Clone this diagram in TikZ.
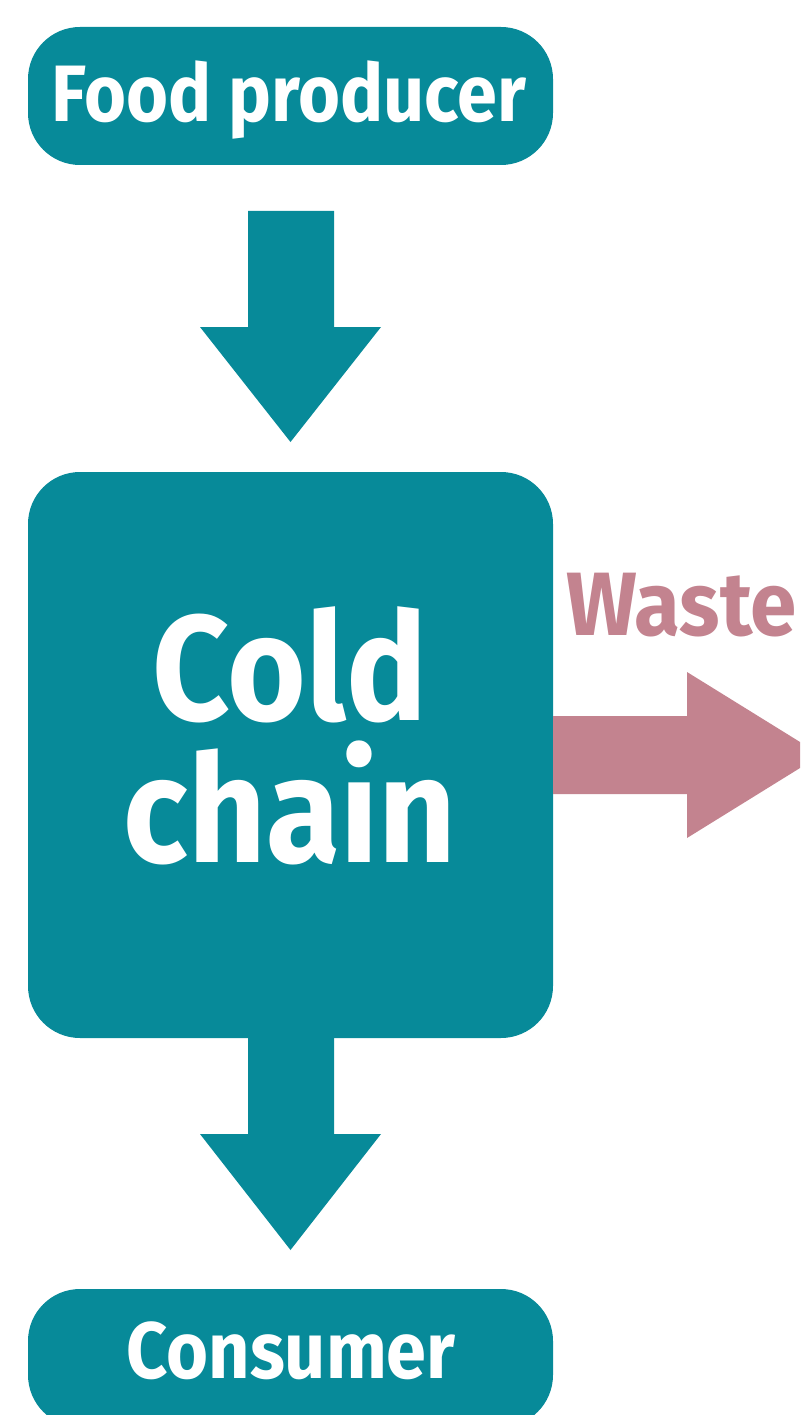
\documentclass[tikz,border=0pt]{standalone}
\usepackage{fontspec}
\setmainfont{Fira Sans}
\newfontfamily\boxfont[FakeStretch=0.9]{Fira Sans Bold}
\newfontfamily\wastefont[FakeStretch=0.93]{Fira Sans Bold}
\definecolor{tealc}{RGB}{7,138,153}
\definecolor{pinkc}{RGB}{195,131,143}
\begin{document}
\begin{tikzpicture}[x=1pt,y=-1pt,
  box/.style={fill=tealc,rounded corners=52pt,inner sep=0pt,minimum width=525pt},
  lbl/.style={text=white,anchor=base,inner sep=0pt,font=\boxfont}]
\useasboundingbox (0,0) rectangle (800,1415);
\clip (0,0) rectangle (800,1415);
\node[box,minimum height=138pt] (fp) at (290.5,96) {};
\node[box,minimum height=566pt] (cc) at (290.5,755) {};
\node[box,minimum height=138pt] (cs) at (290.5,1358) {};
\node[lbl,font=\boxfont\fontsize{80}{80}\selectfont] (fpt) at (289,122) {Food producer};
\node[lbl,font=\boxfont\fontsize{150}{150}\selectfont] (cct1) at (290,720) {Cold};
\node[lbl,font=\boxfont\fontsize{150}{150}\selectfont] (cct2) at (290,862) {chain};
\node[lbl,font=\boxfont\fontsize{80}{80}\selectfont] (cst) at (291,1378) {Consumer};
\node[text=pinkc,anchor=base west,inner sep=0pt,font=\wastefont\fontsize{90}{90}\selectfont] (w) at (566,635) {Waste};
% arrows
\fill[tealc] (248,211) -- (334,211) -- (334,327) -- (381,327) -- (290.5,442) -- (200,327) -- (248,327) -- cycle;
\fill[tealc] (248,1030) -- (334,1030) -- (334,1134) -- (381,1134) -- (290.5,1250) -- (200,1134) -- (248,1134) -- cycle;
\fill[pinkc] (cc.east |- 0,716) -- (687,716) -- (687,672) -- (821,755) -- (687,838) -- (687,794) -- (cc.east |- 0,794) -- cycle;
\end{tikzpicture}
\end{document}
